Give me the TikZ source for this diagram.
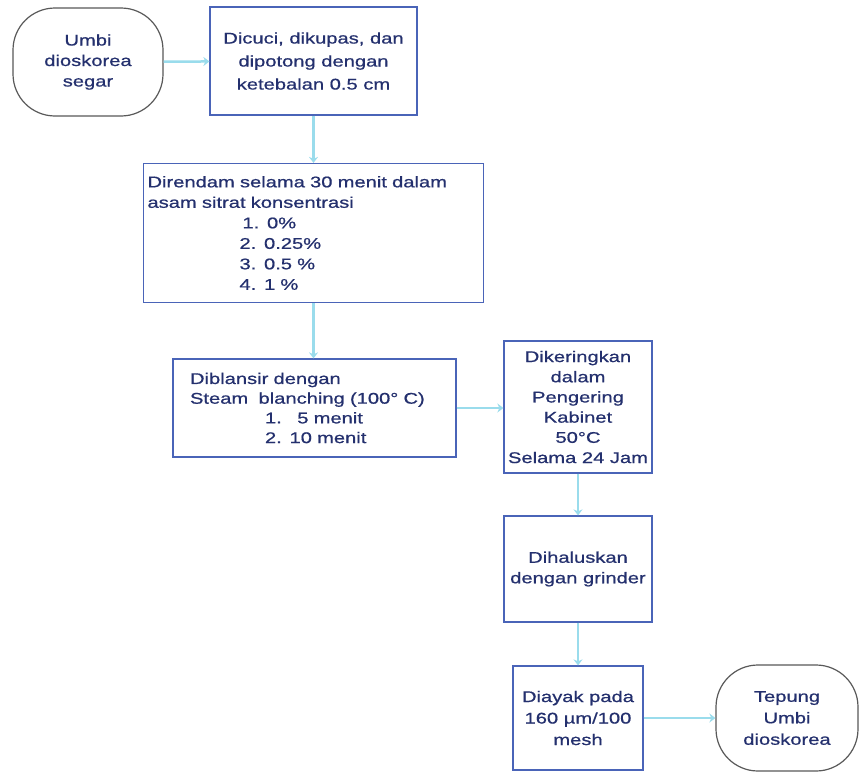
\documentclass[tikz,border=0pt]{standalone}
\usepackage{fontspec}
\setmainfont{Liberation Sans}[FakeStretch=1.3,FakeBold=0.7]
\usetikzlibrary{arrows.meta}
\definecolor{txt}{HTML}{24306E}
\definecolor{edgec}{HTML}{4A64B8}
\definecolor{conn}{HTML}{9ADCEC}
\begin{document}
\begin{tikzpicture}[x=1pt,y=-1pt,
 box/.style={draw=edgec,line width=1.2pt,inner sep=0pt,text=txt,font=\fontsize{15.5}{20.5}\selectfont},
 term/.style={box,draw=black!65,rounded corners=42pt},
 flow/.style={draw=conn,line width=2.5pt,-{Stealth[length=6pt,width=9pt]}}]
\useasboundingbox[fill=white] (0,0) rectangle (859,771);

\node[term,minimum width=150pt,minimum height=108pt,align=center] (umbi) at (88,62)
  {Umbi\\dioskorea\\segar};
\node[box,minimum width=207pt,minimum height=108pt,align=center,
  font=\fontsize{15.5}{23}\selectfont] (cuci) at (313.5,61)
  {Dicuci, dikupas, dan\\dipotong dengan\\ketebalan 0.5 cm};
\node[box,minimum width=340pt,minimum height=139pt,text width=332pt,align=left] (rendam) at (313.5,233)
  {Direndam selama 30 menit dalam\\asam sitrat konsentrasi\\
   \hspace*{95pt}1. 0\%\\\hspace*{92pt}2. 0.25\%\\\hspace*{92pt}3. 0.5 \%\\\hspace*{92pt}4. 1 \%};
\node[box,minimum width=283pt,minimum height=98pt,text width=249pt,align=left,
  font=\fontsize{15.5}{19.7}\selectfont] (blansir) at (314.5,408)
  {Diblansir dengan\\Steam\ \ blanching (100° C)\\
   \hspace*{75pt}1.\ \ \ 5 menit\\\hspace*{75pt}2. 10 menit};
\node[box,minimum width=148pt,minimum height=132pt,align=center,
  font=\fontsize{15.5}{20.2}\selectfont] (kering) at (578,407)
  {Dikeringkan\\dalam\\Pengering\\Kabinet\\50°C\\Selama 24 Jam};
\node[box,minimum width=148pt,minimum height=106pt,align=center] (halus) at (578,569)
  {Dihaluskan\\dengan grinder};
\node[box,minimum width=130pt,minimum height=104pt,align=center,
  font=\fontsize{15.5}{21.5}\selectfont] (ayak) at (578,718)
  {Diayak pada\\160 µm/100\\mesh};
\node[term,minimum width=142pt,minimum height=106pt,align=center,
  font=\fontsize{15.5}{21.5}\selectfont] (tepung) at (787,718)
  {Tepung\\Umbi\\dioskorea};

\draw[flow] (umbi) -- (cuci);
\draw[flow] (cuci) -- (rendam);
\draw[flow] (rendam.south) -- (rendam.south |- blansir.north);
\draw[flow] (blansir.east) -- (blansir.east -| kering.west);
\draw[flow] (kering) -- (halus);
\draw[flow] (halus) -- (ayak);
\draw[flow] (ayak) -- (tepung);
\end{tikzpicture}
\end{document}
